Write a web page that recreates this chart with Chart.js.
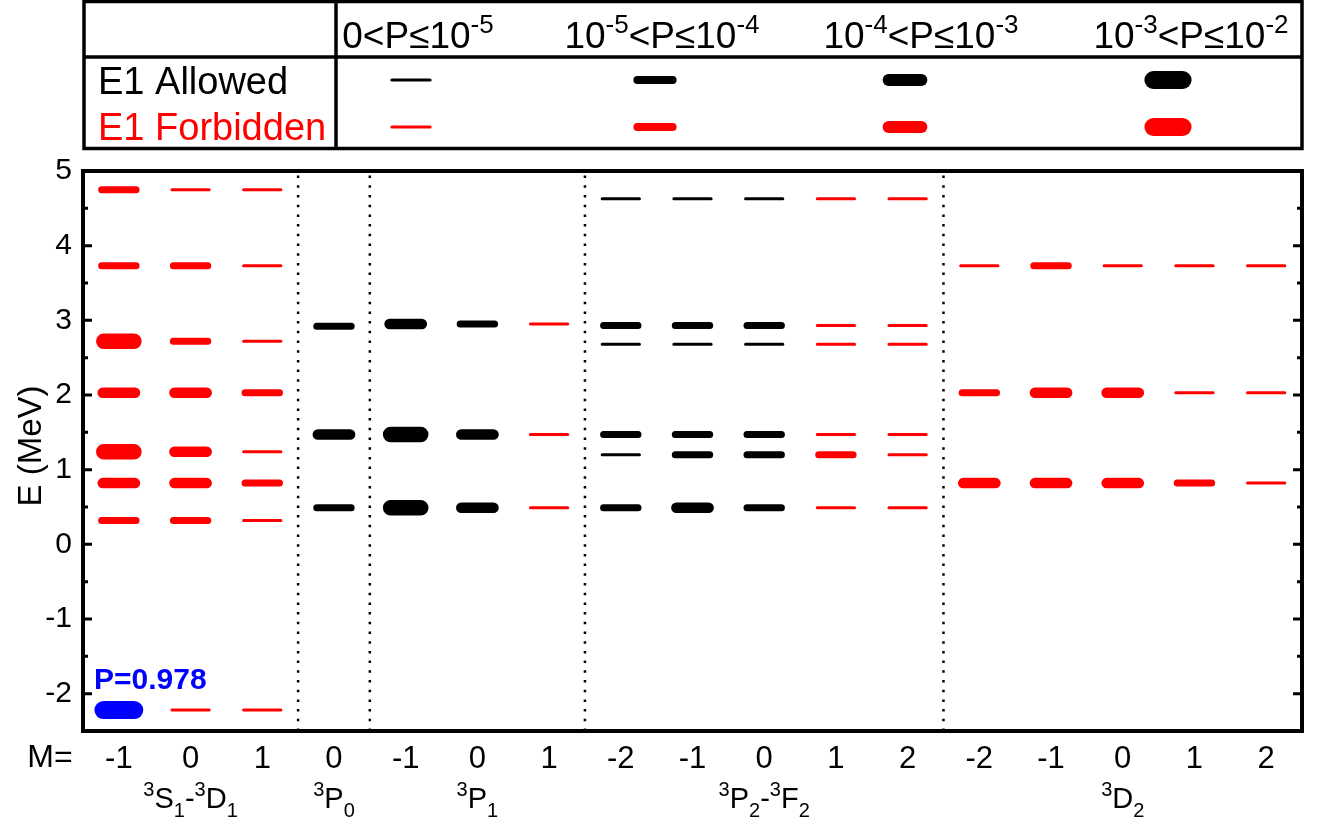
<!DOCTYPE html>
<html>
<head>
<meta charset="utf-8">
<title>Level scheme</title>
<script src="https://cdn.jsdelivr.net/npm/chart.js@4/dist/chart.umd.min.js"></script>
<style>
  html, body { margin: 0; padding: 0; background: #fff; }
  #wrap { position: relative; width: 1322px; height: 829px; }
</style>
</head>
<body>
<div id="wrap"><canvas id="chart"></canvas></div>
<script>
// ── Data ──
// M value of each column, left to right
var mValues = [-1, 0, 1, 0, -1, 0, 1, -2, -1, 0, 1, 2, -2, -1, 0, 1, 2];
// 1 = E1 allowed (black), 0 = E1 forbidden (red)
var e1Allowed = [0, 0, 0, 1, 1, 1, 0, 1, 1, 1, 0, 0, 0, 0, 0, 0, 0];

// channel groups: label parts, first column, number of columns
var groupNames = [
    [["3", "sup"], ["S", ""], ["1", "sub"], ["-", ""], ["3", "sup"], ["D", ""], ["1", "sub"]],
    [["3", "sup"], ["P", ""], ["0", "sub"]],
    [["3", "sup"], ["P", ""], ["1", "sub"]],
    [["3", "sup"], ["P", ""], ["2", "sub"], ["-", ""], ["3", "sup"], ["F", ""], ["2", "sub"]],
    [["3", "sup"], ["D", ""], ["2", "sub"]]
];
var groupStart = [0, 3, 4, 7, 12];
var groupSize = [3, 1, 3, 5, 5];
var dividers = [2.5, 3.5, 6.5, 11.5];

// level energies (MeV) of each group
var eS1D1 = [4.75, 3.73, 2.72, 2.03, 1.24, 0.82, 0.32, -2.22];
var eP0 = [2.92, 1.47, 0.49];
var eP1 = [2.95, 1.47, 0.49];
var eP2F2 = [4.63, 2.93, 2.68, 1.47, 1.20, 0.49];
var eD2 = [3.73, 2.03, 0.82];

// probability class of each level (row) per M column
// 1: 0<P<=1e-5, 2: 1e-5<P<=1e-4, 3: 1e-4<P<=1e-3, 4: 1e-3<P<=1e-2, 5: bound state P=0.978
var pS1D1 = [[2, 1, 1], [2, 2, 1], [4, 2, 1], [3, 3, 2], [4, 3, 1], [3, 3, 2], [2, 2, 1], [5, 1, 1]];
var pP0 = [[2], [3], [2]];
var pP1 = [[3, 2, 1], [4, 3, 1], [4, 3, 1]];
var pP2F2 = [[1, 1, 1, 1, 1], [2, 2, 2, 1, 1], [1, 1, 1, 1, 1], [2, 2, 2, 1, 1], [1, 2, 2, 2, 1], [2, 3, 2, 1, 1]];
var pD2 = [[1, 2, 1, 1, 1], [2, 3, 3, 1, 1], [3, 3, 3, 2, 1]];

// table header labels
var classLabels = [
    [["0<P\u226410", ""], ["-5", "sup"]],
    [["10", ""], ["-5", "sup"], ["<P\u226410", ""], ["-4", "sup"]],
    [["10", ""], ["-4", "sup"], ["<P\u226410", ""], ["-3", "sup"]],
    [["10", ""], ["-3", "sup"], ["<P\u226410", ""], ["-2", "sup"]]
];
var boundLabel = "P=0.978";

// ── Styles ──
var FONT = "'Liberation Sans', Arial, sans-serif";
var LINE_W = [0, 3, 7, 10.5, 15.5, 18];
var HALF = [0, 0.26, 0.24, 0.225, 0.21, 0.215];
var BLACK = "#000000", RED = "#ff0000", BLUE = "#0000ff";

// ── Build one line dataset per style (gaps split the bars) ──
var energies = [eS1D1, eP0, eP1, eP2F2, eD2];
var classes = [pS1D1, pP0, pP1, pP2F2, pD2];
var styleSets = {};

function styleSet(allowed, cls) {
    var key = (cls === 5 ? "b" : (allowed ? "a" : "f")) + cls;
    if (!styleSets[key]) {
        styleSets[key] = {
            data: [],
            borderColor: cls === 5 ? BLUE : (allowed ? BLACK : RED),
            borderWidth: LINE_W[cls],
            borderCapStyle: "round",
            pointRadius: 0,
            pointHoverRadius: 0,
            tension: 0,
            fill: false,
            spanGaps: false
        };
    }
    return styleSets[key];
}

energies.forEach(function (list, g) {
    list.forEach(function (e, row) {
        classes[g][row].forEach(function (cls, k) {
            var col = groupStart[g] + k;
            var ds = styleSet(e1Allowed[col] === 1, cls);
            ds.data.push({ x: col - HALF[cls], y: e }, { x: col + HALF[cls], y: e }, { x: col, y: null });
        });
    });
});

var datasets = [];
dividers.forEach(function (d) {
    datasets.push({
        data: [{ x: d, y: -2.5 }, { x: d, y: 5 }],
        borderColor: BLACK,
        borderWidth: 2.5,
        borderDash: [2.5, 7.2],
        pointRadius: 0,
        fill: false
    });
});
Object.keys(styleSets).forEach(function (k) { datasets.push(styleSets[k]); });

// ── Rich text with super/subscripts ──
function drawRich(ctx, parts, x, y, size, align, color, bold) {
    var small = Math.round(size * 0.7);
    var w = 0;
    var weight = bold ? "bold " : "";
    parts.forEach(function (p) {
        ctx.font = weight + (p[1] ? small : size) + "px " + FONT;
        w += ctx.measureText(p[0]).width;
    });
    var cx = align === "center" ? x - w / 2 : x;
    ctx.fillStyle = color;
    ctx.textAlign = "left";
    ctx.textBaseline = "alphabetic";
    parts.forEach(function (p) {
        var s = p[1] ? small : size;
        ctx.font = weight + s + "px " + FONT;
        var dy = p[1] === "sup" ? -size * 0.4 : (p[1] === "sub" ? size * 0.3 : 0);
        ctx.fillText(p[0], cx, y + dy);
        cx += ctx.measureText(p[0]).width;
    });
}

function roundBar(ctx, cx, cy, len, width, color) {
    ctx.save();
    ctx.strokeStyle = color;
    ctx.lineWidth = width;
    ctx.lineCap = "round";
    ctx.beginPath();
    ctx.moveTo(cx - len / 2, cy);
    ctx.lineTo(cx + len / 2, cy);
    ctx.stroke();
    ctx.restore();
}

// ── Frame, inward ticks, titles and the legend table ──
var decorPlugin = {
    id: "decor",
    afterDraw: function (chart) {
        var ctx = chart.ctx;
        var a = chart.chartArea;
        var xs = chart.scales.x, ys = chart.scales.y;
        ctx.save();

        // frame
        ctx.strokeStyle = BLACK;
        ctx.lineWidth = 4;
        ctx.strokeRect(a.left, a.top, a.right - a.left, a.bottom - a.top);

        // inward ticks on left and right
        ctx.lineWidth = 3;
        for (var v = -2.5; v <= 5.001; v += 0.5) {
            var py = ys.getPixelForValue(v);
            var len = Math.abs(v - Math.round(v)) < 0.01 ? 9 : 5;
            ctx.beginPath();
            ctx.moveTo(a.left, py); ctx.lineTo(a.left + len, py);
            ctx.moveTo(a.right, py); ctx.lineTo(a.right - len, py);
            ctx.stroke();
        }

        // y title
        ctx.save();
        ctx.translate(32, 446);
        ctx.rotate(-Math.PI / 2);
        ctx.fillStyle = BLACK;
        ctx.font = "33px " + FONT;
        ctx.textAlign = "center";
        ctx.textBaseline = "middle";
        ctx.fillText("E (MeV)", 0, 0);
        ctx.restore();

        // M= label
        ctx.fillStyle = BLACK;
        ctx.font = "32px " + FONT;
        ctx.textAlign = "center";
        ctx.textBaseline = "alphabetic";
        ctx.fillText("M=", 50, 767);

        // channel names under the M values
        groupNames.forEach(function (parts, g) {
            var mid = groupStart[g] + (groupSize[g] - 1) / 2;
            drawRich(ctx, parts, xs.getPixelForValue(mid), 808, 29, "center", BLACK, false);
        });

        // bound state probability
        drawRich(ctx, [[boundLabel, ""]], 94, 689, 30, "left", BLUE, true);

        // legend table
        ctx.strokeStyle = BLACK;
        ctx.lineWidth = 3.5;
        ctx.strokeRect(84, 1.5, 1302 - 84, 147);
        ctx.beginPath();
        ctx.moveTo(84, 57); ctx.lineTo(1302, 57);
        ctx.moveTo(336, 1.5); ctx.lineTo(336, 148.5);
        ctx.stroke();

        var headX = [418, 662, 921, 1191];
        var sampleX = [411, 655, 905, 1168];
        var sampleW = [3, 8, 12, 18];
        classLabels.forEach(function (parts, i) {
            drawRich(ctx, parts, headX[i], 48, 37, "center", BLACK, false);
            roundBar(ctx, sampleX[i], 80, 40 - sampleW[i] * 0.6, sampleW[i], BLACK);
            roundBar(ctx, sampleX[i], 127, 40 - sampleW[i] * 0.6, sampleW[i], RED);
        });
        drawRich(ctx, [["E1 Allowed", ""]], 98, 94, 38, "left", BLACK, false);
        drawRich(ctx, [["E1 Forbidden", ""]], 98, 140, 38, "left", RED, false);

        ctx.restore();
    }
};

// ── Chart ──
Chart.defaults.font.family = FONT;
Chart.defaults.color = BLACK;

new Chart(document.getElementById("chart"), {
    type: "line",
    data: { datasets: datasets },
    options: {
        responsive: true,
        maintainAspectRatio: false,
        animation: false,
        layout: { padding: { top: 171, right: 20, left: 0, bottom: 0 } },
        plugins: { legend: { display: false }, tooltip: { enabled: false } },
        scales: {
            x: {
                type: "linear",
                min: -0.5,
                max: 16.5,
                grid: { display: false, drawTicks: false },
                border: { display: false },
                afterBuildTicks: function (s) {
                    s.ticks = mValues.map(function (m, i) { return { value: i }; });
                },
                afterFit: function (s) { s.height = 98; },
                ticks: {
                    autoSkip: false,
                    maxRotation: 0,
                    padding: 10,
                    font: { size: 31 },
                    callback: function (v) { return String(mValues[v]); }
                }
            },
            y: {
                type: "linear",
                min: -2.5,
                max: 5,
                grid: { display: false, drawTicks: false },
                border: { display: false },
                afterBuildTicks: function (s) {
                    s.ticks = [-2, -1, 0, 1, 2, 3, 4, 5].map(function (v) { return { value: v }; });
                },
                afterFit: function (s) { s.width = 83; },
                ticks: {
                    padding: 11,
                    font: { size: 30 },
                    callback: function (v) { return String(v); }
                }
            }
        }
    },
    plugins: [decorPlugin]
});
</script>
</body>
</html>
